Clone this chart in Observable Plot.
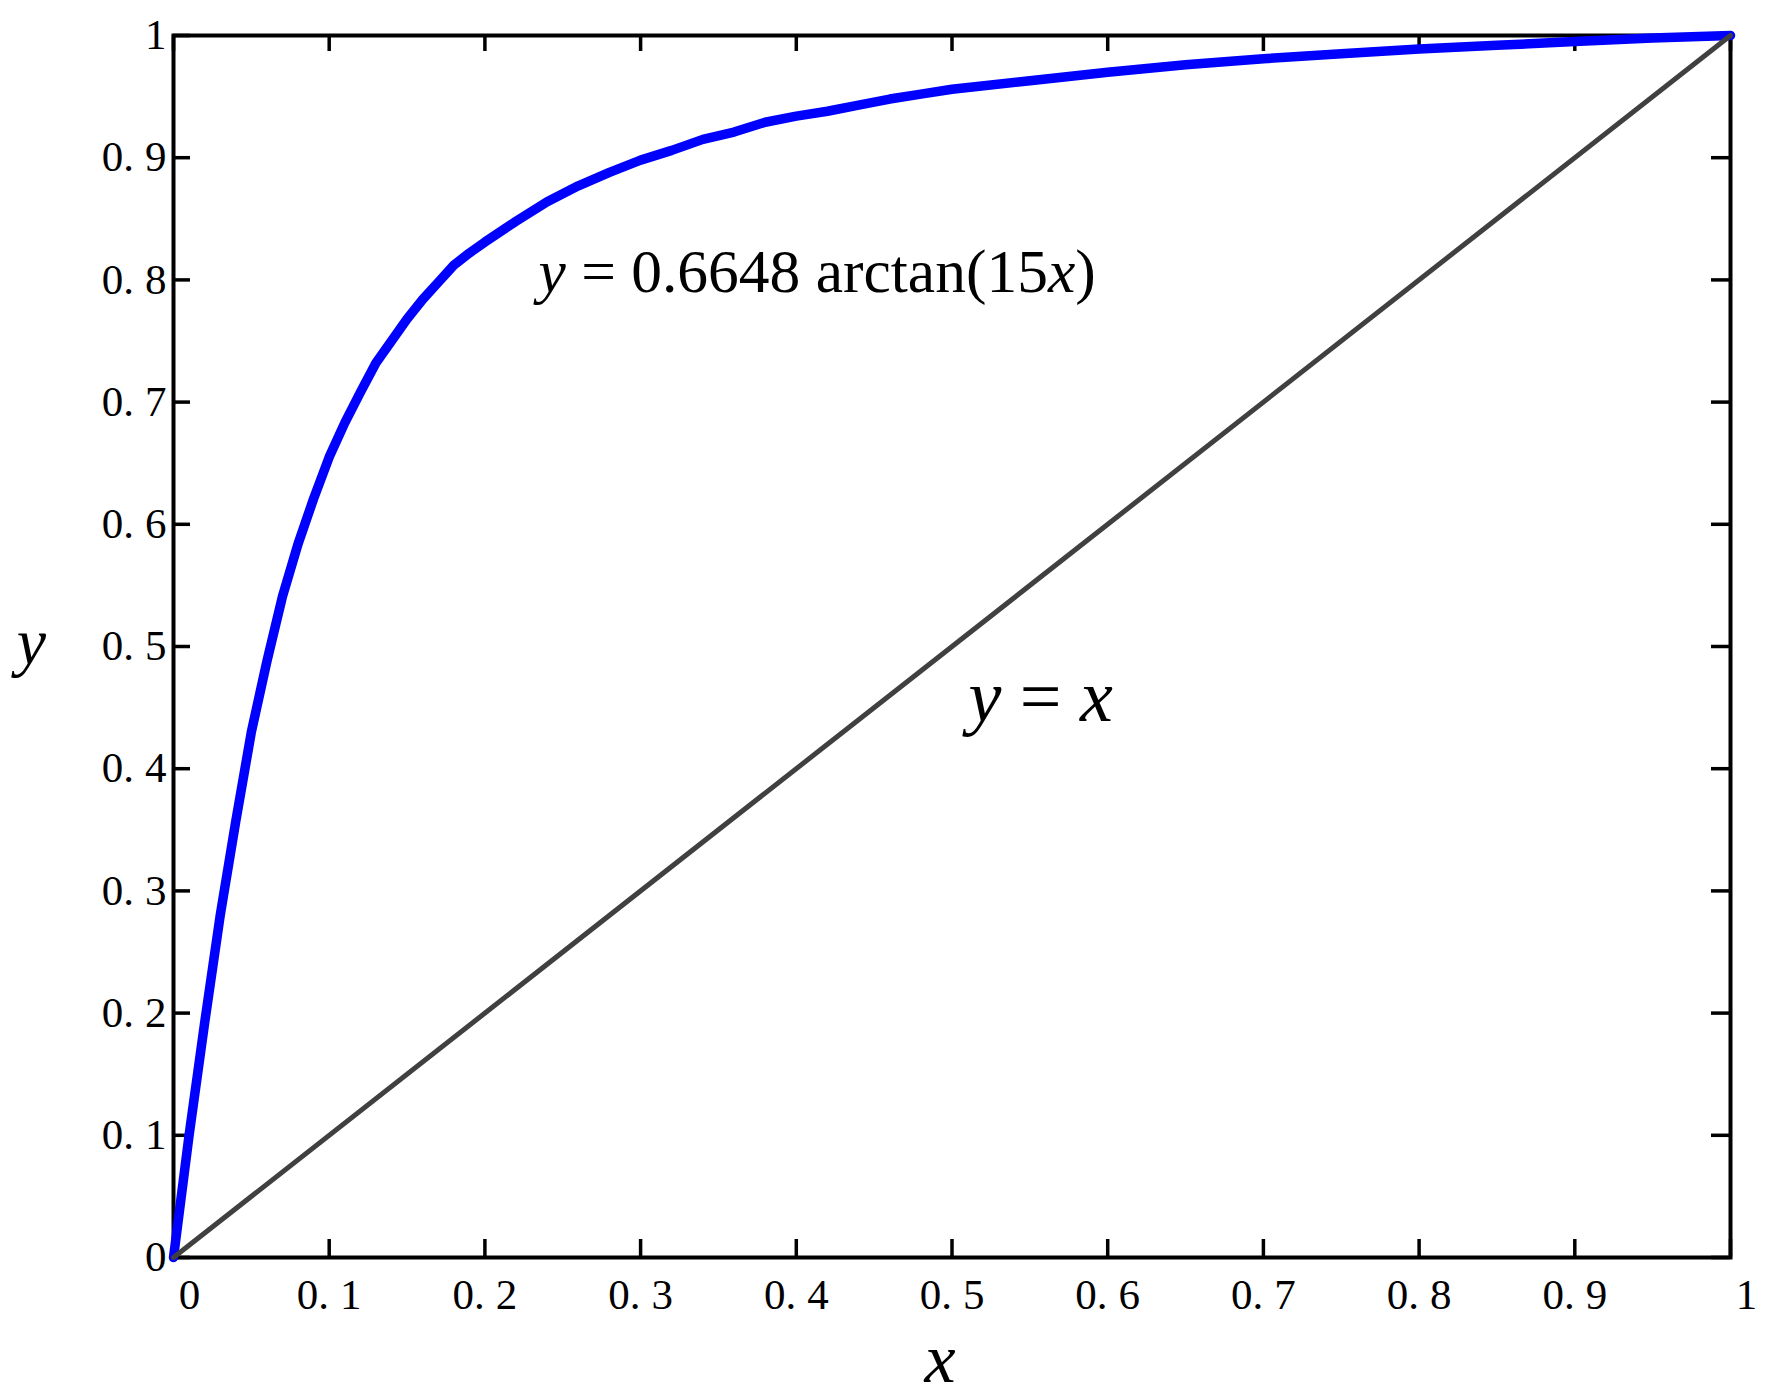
<!DOCTYPE html>
<html><head><meta charset="utf-8">
<script src="https://cdn.jsdelivr.net/npm/d3@7"></script>
<script src="https://cdn.jsdelivr.net/npm/@observablehq/plot@0.6"></script>
<style>html,body{margin:0;padding:0;background:#fff;} svg{display:block}</style>
</head><body><div id="chart"></div>
<script>
// Blue curve: y = 0.6648 arctan(15x)
const curveX = [0, 0.01, 0.02, 0.03, 0.04, 0.05, 0.06, 0.07, 0.08, 0.09, 0.10,
  0.11, 0.12, 0.13, 0.14, 0.15, 0.16, 0.17, 0.18, 0.19, 0.20,
  0.22, 0.24, 0.26, 0.28, 0.30, 0.32, 0.34, 0.36, 0.38, 0.40,
  0.42, 0.44, 0.46, 0.48, 0.50, 0.55, 0.60, 0.65, 0.70, 0.75,
  0.80, 0.85, 0.90, 0.95, 1.00];
const curveY = [0, 0.100, 0.192, 0.280, 0.357, 0.430, 0.488, 0.541, 0.584, 0.621, 0.655,
  0.683, 0.708, 0.732, 0.750, 0.768, 0.784, 0.798, 0.812, 0.822, 0.831,
  0.848, 0.864, 0.877, 0.888, 0.898, 0.906, 0.915, 0.921, 0.929, 0.934,
  0.938, 0.943, 0.948, 0.952, 0.956, 0.963, 0.970, 0.976, 0.981, 0.985,
  0.989, 0.992, 0.995, 0.998, 1.000];
// Reference line y = x
const lineX = [0, 1];
const lineY = [0, 1];
// Ticks
const xTicks = [0, 0.1, 0.2, 0.3, 0.4, 0.5, 0.6, 0.7, 0.8, 0.9, 1];
const xTickLabels = ["0", "0.1", "0.2", "0.3", "0.4", "0.5", "0.6", "0.7", "0.8", "0.9", "1"];
const yTicks = [0, 0.1, 0.2, 0.3, 0.4, 0.5, 0.6, 0.7, 0.8, 0.9, 1];
const yTickLabels = ["0", "0.1", "0.2", "0.3", "0.4", "0.5", "0.6", "0.7", "0.8", "0.9", "1"];
// Texts
const curveLabel = "y = 0.6648 arctan(15x)";
const diagLabel = "y = x";
const xAxisLabel = "x";
const yAxisLabel = "y";

const W = 1775, H = 1400;
const mL = 173, mR = 45, mT = 35, mB = 143;
const innerW = W - mL - mR, innerH = H - mT - mB;

const curve = curveX.map((x, i) => ({x, y: curveY[i]}));
const diag = lineX.map((x, i) => ({x, y: lineY[i]}));
const xFmt = d => xTickLabels[xTicks.indexOf(d)];
const yFmt = d => yTickLabels[yTicks.indexOf(d)];
const xEnds = [xTicks[0], xTicks[xTicks.length - 1]];
const xMid = xTicks.slice(1, -1);

const chart = Plot.plot({
  width: W, height: H,
  marginLeft: mL, marginRight: mR, marginTop: mT, marginBottom: mB,
  style: {fontFamily: "'Liberation Serif', 'Times New Roman', serif", background: "#fff", color: "#000", overflow: "visible"},
  x: {domain: [0, 1]},
  y: {domain: [0, 1]},
  marks: [
    Plot.frame({stroke: "#000", strokeWidth: 4}),
    // inward ticks on all four sides
    Plot.tickX(xTicks, {x: d => d, stroke: "#000", strokeWidth: 3.5, insetTop: innerH - 18}),
    Plot.tickX(xTicks, {x: d => d, stroke: "#000", strokeWidth: 3.5, insetBottom: innerH - 16}),
    Plot.tickY(yTicks, {y: d => d, stroke: "#000", strokeWidth: 3.5, insetRight: innerW - 17}),
    Plot.tickY(yTicks, {y: d => d, stroke: "#000", strokeWidth: 3.5, insetLeft: innerW - 19}),
    // tick labels
    Plot.axisX(xMid, {anchor: "bottom", tickSize: 0, tickPadding: 21, fontSize: 43, tickFormat: xFmt, label: null}),
    Plot.axisX(xEnds, {anchor: "bottom", tickSize: 0, tickPadding: 21, fontSize: 43, tickFormat: xFmt, label: null, dx: 16}),
    Plot.axisY(yTicks, {anchor: "left", tickSize: 0, tickPadding: 7, fontSize: 43, tickFormat: yFmt, label: null}),
    // data lines
    Plot.line(curve, {x: "x", y: "y", stroke: "#0000ff", strokeWidth: 9.5, strokeLinejoin: "round", strokeLinecap: "round"}),
    Plot.line(diag, {x: "x", y: "y", stroke: "#404040", strokeWidth: 5, strokeLinecap: "round"}),
    // annotations
    Plot.text([curveLabel], {x: () => 0.2344, y: () => 0.7897, text: d => d, textAnchor: "start", lineAnchor: "bottom", fontSize: 61.5, fill: "#000"}),
    Plot.text([diagLabel], {x: () => 0.5106, y: () => 0.4394, text: d => d, textAnchor: "start", lineAnchor: "bottom", fontSize: 74, fill: "#000"}),
    // axis titles
    Plot.text([xAxisLabel], {frameAnchor: "bottom", dx: -12, dy: 124, text: d => d, textAnchor: "middle", lineAnchor: "bottom", fontSize: 70, fontStyle: "italic", fill: "#000"}),
    Plot.text([yAxisLabel], {frameAnchor: "left", dx: -142, dy: 17, text: d => d, textAnchor: "middle", lineAnchor: "bottom", fontSize: 66, fontStyle: "italic", fill: "#000"})
  ]
});

// tick labels: widen the gap after the decimal point as in the reference font
chart.querySelectorAll('g[aria-label="x-axis tick label"] text, g[aria-label="y-axis tick label"] text').forEach(t => {
  const s = t.textContent;
  const k = s.indexOf(".");
  if (k >= 0) {
    t.textContent = s.slice(0, k + 1);
    const ts = document.createElementNS("http://www.w3.org/2000/svg", "tspan");
    ts.setAttribute("dx", "11");
    ts.textContent = s.slice(k + 1);
    t.appendChild(ts);
  }
});
// italic variables in the formula labels
function italicize(label) {
  const t = Array.from(chart.querySelectorAll("text")).find(e => e.textContent === label);
  if (!t) return;
  t.textContent = "";
  const parts = label.split(/(?<![a-z])([xy])(?![a-z])/);
  for (const p of parts) {
    if (!p) continue;
    const ts = document.createElementNS("http://www.w3.org/2000/svg", "tspan");
    if (p === "x" || p === "y") ts.setAttribute("font-style", "italic");
    ts.textContent = p;
    t.appendChild(ts);
  }
  t.setAttribute("xml:space", "preserve");
  t.style.whiteSpace = "pre";
}
italicize(curveLabel);
italicize(diagLabel);

document.getElementById("chart").appendChild(chart);
</script>
</body></html>
